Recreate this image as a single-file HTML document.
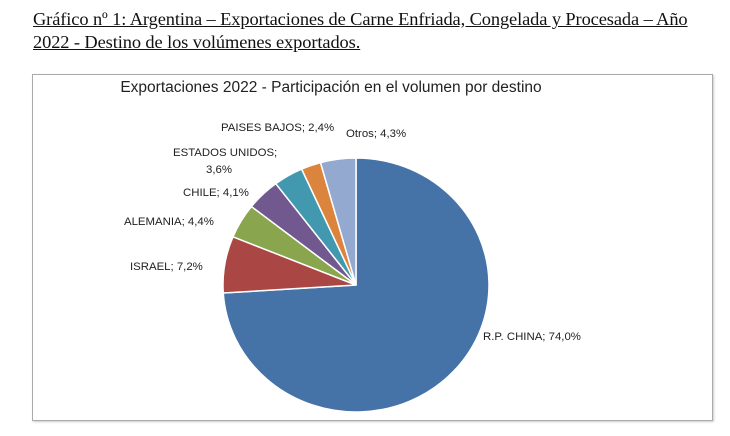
<!DOCTYPE html>
<html><head><meta charset="utf-8"><style>
body{margin:0;width:730px;height:436px;background:#fff;overflow:hidden;position:relative}
.t{position:absolute;left:33px;font-family:"Liberation Serif",serif;font-size:18.4px;text-decoration:underline;color:#111;white-space:nowrap;letter-spacing:-0.1px}
.frame{position:absolute;left:32px;top:74px;width:679px;height:345px;border:1px solid #aaa;box-shadow:1px 1px 2px #ccc}
svg{position:absolute;left:0;top:0}
text{font-family:"Liberation Sans",sans-serif;fill:#222}
</style></head><body>
<div class="t" style="top:9px">Gráfico nº 1: Argentina – Exportaciones de Carne Enfriada, Congelada y Procesada – Año</div>
<div class="t" style="top:32px">2022 - Destino de los volúmenes exportados.</div>
<div class="frame"></div>
<svg width="730" height="436" id="s">
<text x="331" y="92" font-size="15.5" text-anchor="middle">Exportaciones 2022 - Participación en el volumen por destino</text>
<g font-size="11.4">
<text x="221" y="131">PAISES BAJOS; 2,4%</text>
<text x="346" y="137">Otros; 4,3%</text>
<text x="173" y="156">ESTADOS UNIDOS;</text>
<text x="206" y="173">3,6%</text>
<text x="183" y="196">CHILE; 4,1%</text>
<text x="124" y="225">ALEMANIA; 4,4%</text>
<text x="130" y="270">ISRAEL; 7,2%</text>
<text x="483" y="340">R.P. CHINA; 74,0%</text>
</g>
<g id="pie" stroke="#fff" stroke-width="1.5"></g>
</svg>
<script>
var cx=356,cy=285,rx=133,ry=127;
var d=[[74,"#4572a7"],[7.2,"#aa4643"],[4.4,"#89a54e"],[4.1,"#71588f"],[3.6,"#4198af"],[2.4,"#db843d"],[4.3,"#93a9cf"]];
var a=0,h="";
function p(t){t=t*Math.PI/180;return (cx+rx*Math.sin(t)).toFixed(2)+" "+(cy-ry*Math.cos(t)).toFixed(2);}
d.forEach(function(s){var b=a+s[0]*3.6;h+='<path fill="'+s[1]+'" d="M'+cx+' '+cy+' L'+p(a)+' A'+rx+' '+ry+' 0 '+(b-a>180?1:0)+' 1 '+p(b)+' Z"/>';a=b;});
document.getElementById("pie").innerHTML=h;
</script>
</body></html>
